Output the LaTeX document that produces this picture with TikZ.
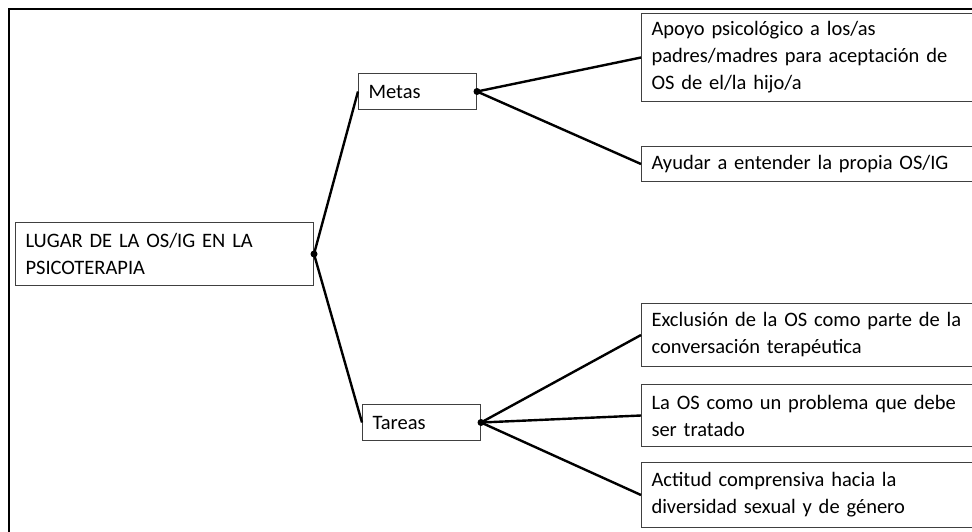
\documentclass[tikz,border=0pt]{standalone}
\usepackage{fontspec}
\setmainfont{Carlito}
\tikzset{
  box/.style={draw=black!75, line width=1pt, anchor=north west, rectangle,
    inner xsep=10pt, inner ysep=0pt, align=left,
    font=\fontsize{20.5}{27}\selectfont},
  conn/.style={line width=2.4pt, black},
  dotmark/.style={fill=black, circle, inner sep=0pt, minimum size=7pt},
}
\begin{document}
\begin{tikzpicture}[x=1pt,y=-1pt]
\useasboundingbox (0,0) rectangle (972,531);
\clip (0,0) rectangle (972,531);
\draw[line width=2pt, black] (9,9) rectangle (1000,560);

\node[box, minimum width=298pt, minimum height=63pt, text width=278pt] (root) at (15,222)
  {LUGAR DE LA OS/IG EN LA\\PSICOTERAPIA};
\node[box, minimum width=118pt, minimum height=36pt, text width=98pt] (metas) at (358,73) {Metas};
\node[box, minimum width=118pt, minimum height=36pt, text width=98pt] (tareas) at (362,404) {Tareas};

\node[box, minimum width=380pt, minimum height=88pt, text width=360pt] (b1) at (641,13)
  {Apoyo psicológico a los/as\\padres/madres para aceptación de\\OS de el/la hijo/a};
\node[box, minimum width=380pt, minimum height=35pt, text width=360pt] (b2) at (641,146)
  {Ayudar a entender la propia OS/IG};
\node[box, minimum width=380pt, minimum height=63pt, text width=360pt] (b3) at (641,303)
  {Exclusión de la OS como parte de la\\conversación terapéutica};
\node[box, minimum width=380pt, minimum height=62pt, text width=360pt] (b4) at (641,384)
  {La OS como un problema que debe\\ser tratado};
\node[box, minimum width=380pt, minimum height=65pt, text width=360pt] (b5) at (641,462)
  {Actitud comprensiva hacia la\\diversidad sexual y de género};

\draw[conn] (root.east) -- (metas.west);
\draw[conn] (root.east) -- (tareas.west);
\draw[conn] (metas.east) -- (b1.west);
\draw[conn] (metas.east) -- (b2.west);
\draw[conn] (tareas.east) -- (b3.west);
\draw[conn] (tareas.east) -- (b4.west);
\draw[conn] (tareas.east) -- (b5.west);

\node[dotmark] (d0) at (root.east) {};
\node[dotmark] (d1) at (metas.east) {};
\node[dotmark] (d2) at (tareas.east) {};
\end{tikzpicture}
\end{document}
